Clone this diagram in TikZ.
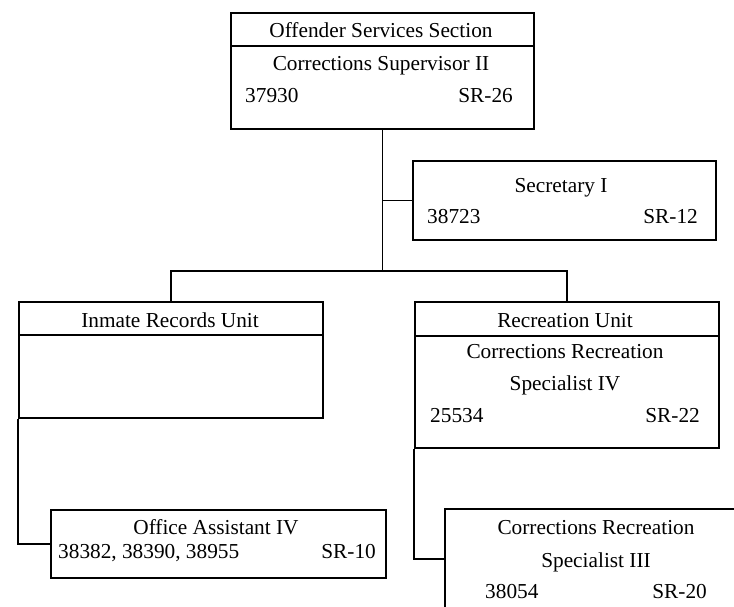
\documentclass[tikz,border=0pt]{standalone}
\usepackage{fontspec}
\setmainfont{Liberation Serif}

\begin{document}
\begin{tikzpicture}[x=1pt, y=-1pt,
                box/.style={draw, line width=1.8pt, anchor=north west, inner sep=0pt}, % boxes
                txt/.style={font=\fontsize{21.3}{25}\selectfont, inner sep=0pt, anchor=base}, % labels
                lnum/.style={txt, anchor=base west}, % number on the left
                rnum/.style={txt, anchor=base east}, % grade on the right
                link/.style={draw, line width=1.8pt} % connectors
                ]
  \useasboundingbox (0,0) rectangle (734,606);
  \clip (0,0) rectangle (734,606);
  % boxes
  \node[box, minimum width=303pt, minimum height=116pt] (oss) at (230,12) {};
  \node[box, minimum width=303pt, minimum height=79pt] (secy) at (412,160) {};
  \node[box, minimum width=304pt, minimum height=116pt] (iru) at (18,301) {};
  \node[box, minimum width=335pt, minimum height=68pt] (oa) at (50,509) {};
  \node[box, minimum width=304pt, minimum height=146pt] (rec) at (414,301) {};
  \node[box, minimum width=304pt, minimum height=100pt] (crs) at (444,508) {};
  % header lines
  \draw[link] ([yshift=-34pt]oss.north west) -- ([yshift=-34pt]oss.north east);
  \draw[link] ([yshift=-34pt]iru.north west) -- ([yshift=-34pt]iru.north east);
  \draw[link] ([yshift=-35pt]rec.north west) -- ([yshift=-35pt]rec.north east);
  % texts
  \node[txt] (ossT) at (381,37) {Offender Services Section};
  \node[txt] (ossP) at (381,70) {Corrections Supervisor II};
  \node[lnum] (ossN) at (245,102) {37930};
  \node[rnum] (ossG) at (513,102) {SR-26};
  \node[txt] (secyP) at (561,192) {Secretary I};
  \node[lnum] (secyN) at (427,223) {38723};
  \node[rnum] (secyG) at (698,223) {SR-12};
  \node[txt] (iruT) at (170,327) {Inmate Records Unit};
  \node[txt] (oaP) at (216,534) {Office Assistant IV};
  \node[lnum] (oaN) at (58,558) {38382, 38390, 38955};
  \node[rnum] (oaG) at (376,558) {SR-10};
  \node[txt] (recT) at (565,327) {Recreation Unit};
  \node[txt] (recP) at (565,358) {Corrections Recreation};
  \node[txt] (recQ) at (565,390) {Specialist IV};
  \node[lnum] (recN) at (430,422) {25534};
  \node[rnum] (recG) at (700,422) {SR-22};
  \node[txt] (crsP) at (596,534) {Corrections Recreation};
  \node[txt] (crsQ) at (596,567) {Specialist III};
  \node[lnum] (crsN) at (485,598) {38054};
  \node[rnum] (crsG) at (707,598) {SR-20};
  % connectors
  \coordinate (bus) at (oss.south |- 0,271);
  \draw[link] (oss.south) -- (bus);
  \draw[link] (oss.south |- secy.west) -- (secy.west);
  \draw[link] (iru.north) |- (bus) -| (rec.north);
  \draw[link] (iru.south west) |- (oa.west);
  \draw[link] (rec.south west) |- (crs.west);
\end{tikzpicture}
\end{document}
